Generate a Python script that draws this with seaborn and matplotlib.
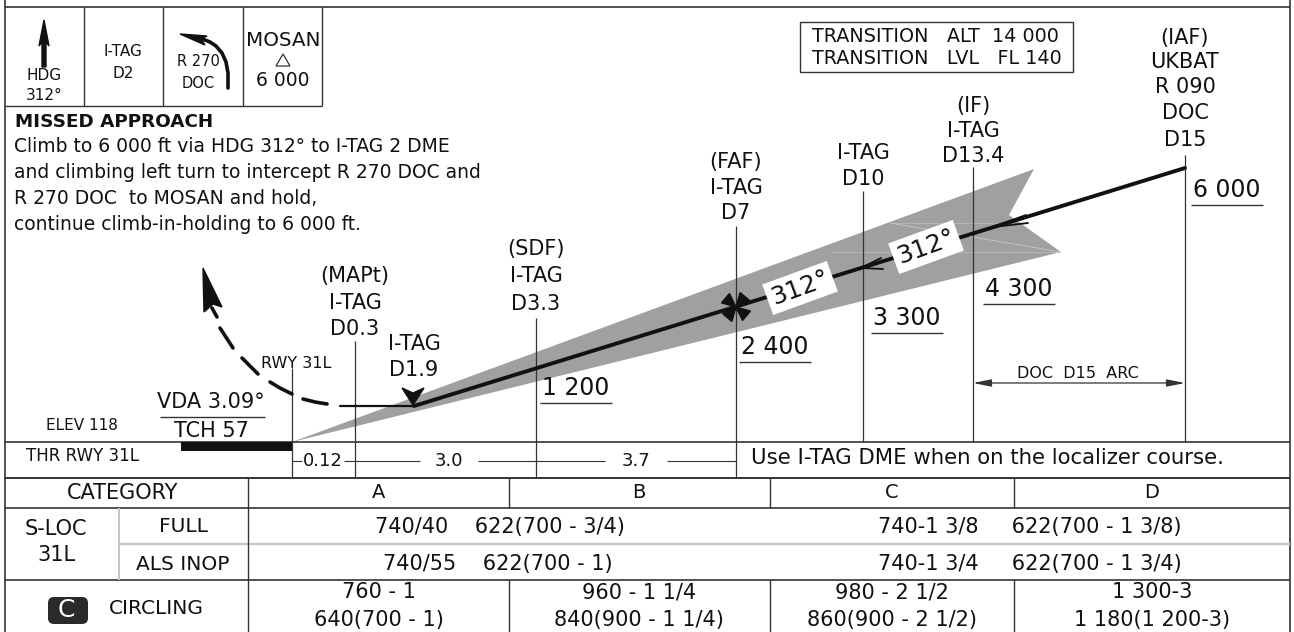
import math
import matplotlib
matplotlib.use("Agg")
import matplotlib.pyplot as plt
import seaborn as sns
import pandas as pd
from matplotlib.patches import Polygon, FancyBboxPatch, Rectangle

sns.set_theme(style="white")
plt.rcParams['font.family'] = ['DejaVu Sans']

INK = "#111111"
RULE = "#333333"
CONE = "#a0a0a0"

# ---------- data ----------
fix_x = [292, 355, 536, 736, 863, 973, 1185]
fix_top = [368, 341, 318, 226, 191, 167, 155]
fix_bottom = [478, 478, 478, 478, 442, 442, 442]
fix_labels = [
    [],
    [("(MAPt)", 276), ("I-TAG", 303), ("D0.3", 329)],
    [("(SDF)", 249), ("I-TAG", 276), ("D3.3", 304)],
    [("(FAF)", 162), ("I-TAG", 188), ("D7", 213)],
    [("I-TAG", 153), ("D10", 179)],
    [("(IF)", 106), ("I-TAG", 131), ("D13.4", 156)],
    [("(IAF)", 38), ("UKBAT", 62), ("R 090", 87), ("DOC", 113), ("D15", 140)],
]
alt_text = ["1 200", "2 400", "3 300", "4 300", "6 000"]
alt_x = [576, 775, 907, 1019, 1227]
alt_y = [388, 347, 318, 289, 190]

profile_x = [1185, 414, 340]
profile_y = [168, 406, 406]
missed_id = [0, 0, 1, 1, 2, 2, 3, 3, 3, 4, 4, 4]
missed_x = [217, 212, 233, 220, 258, 242, 292, 280, 270, 327, 315, 303]
missed_y = [317, 308, 348, 328, 374, 358, 394, 388, 382, 404, 402, 399]
cone_x = [292, 1034, 1009, 1061]
cone_y = [442, 169, 215, 252]

leg_text = ["0.12", "3.0", "3.7"]
leg_x = [323, 449, 636]
leg_spans = [(292, 302), (344, 355), (355, 420), (478, 536), (536, 605), (667, 736)]

course_text = ["312°", "312°"]
course_x = [800, 926]
course_y = [288, 247]

moca_rows = ["FULL", "ALS INOP"]
cat_names = ["A", "B", "C", "D"]
cat_x = [379, 639, 892, 1152]
row_ab = ["740/40    622(700 - 3/4)", "740/55    622(700 - 1)"]
row_ab_x = [500, 498]
row_cd = ["740-1 3/8     622(700 - 1 3/8)", "740-1 3/4     622(700 - 1 3/4)"]
circ_top = ["760 - 1", "960 - 1 1/4", "980 - 2 1/2", "1 300-3"]
circ_bot = ["640(700 - 1)", "840(900 - 1 1/4)", "860(900 - 2 1/2)", "1 180(1 200-3)"]
missed_lines = [
    "Climb to 6 000 ft via HDG 312° to I-TAG 2 DME",
    "and climbing left turn to intercept R 270 DOC and",
    "R 270 DOC  to MOSAN and hold,",
    "continue climb-in-holding to 6 000 ft.",
]
missed_line_y = [146, 172, 198, 224]

# ---------- canvas in chart units ----------
fig = plt.figure(figsize=(12.94, 6.32), dpi=100, facecolor="white")
ax = fig.add_axes([0, 0, 1, 1])
ax.set_xlim(0, 1294)
ax.set_ylim(632, 0)
ax.axis("off")


def rule(x0, y0, x1, y1, lw=1.0, c=RULE, z=3):
    ax.plot([x0, x1], [y0, y1], color=c, lw=lw, solid_capstyle="butt", zorder=z)


def T(x, y, s, size=15, ha="center", weight="normal", z=6, **kw):
    ax.text(x, y, s, fontsize=size, ha=ha, va="center", color=INK, weight=weight, zorder=z, **kw)


# frame
rule(5, 0, 5, 632, 1.2)
rule(1290, 0, 1290, 632, 1.2)
rule(5, 7, 1290, 7, 1.2)
for bx in [84, 163, 243, 322]:
    rule(bx, 7, bx, 106)
rule(5, 106, 322, 106)

# top boxes
ax.add_patch(Polygon([[44, 20], [49, 46], [46, 42], [46, 67], [42, 67], [42, 42], [39, 46]], closed=True, color=INK, zorder=4))
T(44, 75, "HDG", 11)
T(44, 96, "312°", 11)
T(123, 52, "I-TAG", 11)
T(123, 74, "D2", 11)
T(198, 62, "R 270", 10.5)
T(198, 83, "DOC", 10.5)
arc_x = [228, 228, 226, 222, 216, 210, 200]
arc_y = [88, 73, 62, 53, 46, 42, 38]
sns.lineplot(x=arc_x, y=arc_y, sort=False, estimator=None, color=INK, lw=2.6, ax=ax, legend=False)
ax.add_patch(Polygon([[180, 34], [207, 36], [201, 39], [205, 45]], closed=True, color=INK, zorder=4))
T(283, 41, "MOSAN", 14.3)
ax.add_patch(Polygon([[276, 66], [290, 66], [283, 54]], closed=True, fc="white", ec=RULE, lw=0.9, zorder=4))
T(283, 80, "6 000", 13.5)

# transition box
ax.add_patch(Rectangle((800, 22), 273, 50, fc="none", ec=RULE, lw=1.0))
T(812, 37, "TRANSITION   ALT  14 000", 13.8, ha="left")
T(812, 59, "TRANSITION   LVL   FL 140", 13.8, ha="left")

# missed approach text
T(15, 122, "MISSED APPROACH", 13.2, ha="left", weight="bold")
for s, y in zip(missed_lines, missed_line_y):
    T(14, y, s, 13.5, ha="left")

# protection cone
ax.add_patch(Polygon(list(zip(cone_x, cone_y)), closed=True, fc=CONE, ec="none", zorder=1))
rule(890, 223, 1061, 252, 0.4, "#d8d8d8", 2)
rule(830, 252, 1061, 252, 0.4, "#c4c4c4", 2)
rule(890, 223, 1010, 223, 0.4, "#c4c4c4", 2)

# fix verticals and labels
for x, top, bot, labels in zip(fix_x, fix_top, fix_bottom, fix_labels):
    rule(x, top, x, bot, 0.9, z=2.5)
    for s, y in labels:
        T(x, y, s, 15)
T(414, 344, "I-TAG", 15)
T(414, 370, "D1.9", 15)
T(296, 363, "RWY 31L", 11.5)

# altitudes
for s, x, y in zip(alt_text, alt_x, alt_y):
    T(x, y, s, 17)
    rule(x - 36, y + 15, x + 36, y + 15, 1.0)

# flight path
prof = pd.DataFrame({"x": profile_x, "y": profile_y})
sns.lineplot(data=prof.iloc[:2], x="x", y="y", sort=False, estimator=None, color=INK, lw=2.8, ax=ax, legend=False, zorder=4)
sns.lineplot(data=prof.iloc[1:], x="x", y="y", sort=False, estimator=None, color=INK, lw=1.6, ax=ax, legend=False, zorder=4)
missed = pd.DataFrame({"x": missed_x, "y": missed_y, "dash": missed_id})
sns.lineplot(data=missed, x="x", y="y", units="dash", sort=False, estimator=None, color=INK, lw=2.6, ax=ax, legend=False, zorder=4)
ax.add_patch(Polygon([[203, 268], [222, 307], [213, 304], [204, 312]], closed=True, color=INK, zorder=5))

# open arrows on the inbound course
for tip, a, b in [((861, 268), (881, 258), (883, 269)), ((993, 227), (1026, 215), (1028, 223))]:
    ax.plot([a[0], tip[0], b[0]], [a[1], tip[1], b[1]], color=INK, lw=1.3, zorder=5)

# course labels
for s, x, y in zip(course_text, course_x, course_y):
    ax.text(x, y, s, fontsize=18, rotation=20, rotation_mode="anchor", ha="center", va="center", color=INK, zorder=7,
            bbox=dict(fc="white", ec="none", pad=3))

# FAF cross, stepdown chevron
for deg in [40, 130, 220, 310]:
    p = [[736, 307]]
    for off in (-0.42, 0.42):
        t = math.radians(deg) + off
        p.append([736 + 15 * math.cos(t), 307 + 15 * math.sin(t)])
    ax.add_patch(Polygon(p, closed=True, color=INK, zorder=6))
ax.add_patch(Polygon([[402, 388], [413, 393], [424, 388], [413, 405]], closed=True, color=INK, zorder=6))

# DME arc dimension
T(1078, 373, "DOC  D15  ARC", 11.5)
ax.annotate("", xy=(973, 383), xytext=(1185, 383), arrowprops=dict(arrowstyle="<|-|>,head_length=1.0,head_width=0.2", color=RULE, lw=0.9, shrinkA=0, shrinkB=0, mutation_scale=11))

# threshold block
ax.add_patch(Rectangle((181, 442), 111, 9, fc=INK, ec="none", zorder=4))
T(82, 426, "ELEV 118", 11)
T(83, 456, "THR RWY 31L", 12)
T(211, 402, "VDA 3.09°", 15)
rule(160, 417, 265, 417)
T(211, 431, "TCH 57", 15)

# distance strip
rule(5, 442, 1290, 442, 1.2)
rule(5, 478, 1290, 478, 1.4)
for s, x in zip(leg_text, leg_x):
    T(x, 461, s, 13)
for a, b in leg_spans:
    rule(a, 461, b, 461, 0.8)
T(987, 458, "Use I-TAG DME when on the localizer course.", 15.3)

# minima table
rule(5, 508, 1290, 508, 1.2)
rule(119, 544, 1290, 544, 1.6, "#c4c4c4")
rule(5, 580, 1290, 580, 1.2)
rule(248, 478, 248, 632, 1.0)
rule(119, 508, 119, 580, 1.4, "#c4c4c4")
for x in [509, 770, 1014]:
    rule(x, 478, x, 508, 1.0)
    rule(x, 580, x, 632, 1.0)
T(123, 493, "CATEGORY", 15)
for s, x in zip(cat_names, cat_x):
    T(x, 493, s, 14)
T(56, 529, "S-LOC", 15)
T(56, 555, "31L", 15)
for s, y in zip(moca_rows, [527, 564]):
    T(183, y, s, 14.5)
for s, y, x in zip(row_ab, [527, 564], row_ab_x):
    T(x, y, s, 15)
for s, y in zip(row_cd, [527, 564]):
    T(1030, y, s, 15)
for a, b, x in zip(circ_top, circ_bot, cat_x):
    T(x, 592, a, 15)
    T(x, 620, b, 15)
ax.add_patch(FancyBboxPatch((48, 597), 40, 27, boxstyle="round,pad=0,rounding_size=6", fc="#2a2a2a", ec="none", zorder=4))
ax.text(66, 610, "C", fontsize=18, ha="center", va="center", color="white", zorder=6)
T(156, 609, "CIRCLING", 14.5)

ax.set_xlim(0, 1294)
ax.set_ylim(632, 0)
ax.set_xlabel("")
ax.set_ylabel("")
fig.savefig("out.png", dpi=100)
